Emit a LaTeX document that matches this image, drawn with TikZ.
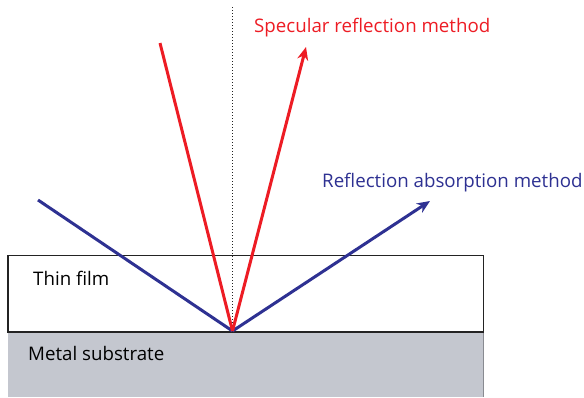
\documentclass[tikz,border=0pt]{standalone}
\usepackage{fontspec}
\setmainfont{Open Sans}
\usepackage{tikz}
\usetikzlibrary{arrows.meta, positioning, calc}
\definecolor{myred}{RGB}{237,28,36}
\definecolor{myblue}{RGB}{46,49,146}
\definecolor{mygrey}{RGB}{196,199,207}
\definecolor{mydark}{RGB}{35,35,35}
\tikzset{
  layer/.style={draw=mydark, line width=1.3pt},
  beamred/.style={myred, line width=3pt},
  beamblue/.style={myblue, line width=3pt},
  tipred/.style={beamred, -{Stealth[length=13pt, width=11pt]}},
  tipblue/.style={beamblue, -{Stealth[length=13pt, width=11pt]}},
  normal/.style={dotted, line width=1pt, color=mydark},
  lbl/.style={font=\fontsize{18.7}{22}\selectfont, inner sep=0pt, anchor=west}
}

\begin{document}
\begin{tikzpicture}[x=1pt, y=-1pt]
  \useasboundingbox (0,0) rectangle (584,397);

  % Layers
  \fill[mygrey] (8,332) rectangle (484,397);
  \draw[mygrey!70!black, line width=1pt] (483.5,332) -- (483.5,397);
  \draw[layer, fill=white] (8,255.5) rectangle (483.5,332);
  \node[lbl] (film) at (33,278) {Thin film};
  \node[lbl] (metal) at (28,353) {Metal substrate};

  % Points
  \coordinate (hit) at (232.5,331);
  \coordinate (top) at (232.5,7);
  \coordinate (redin) at (160,43);
  \coordinate (redout) at (306,47);
  \coordinate (bluein) at (38,200);
  \coordinate (blueout) at (430,201);

  % Surface normal
  \draw[normal] (top) -- (hit);

  % Beams
  \draw[beamblue] (bluein) -- (hit);
  \draw[tipblue] (hit) -- (blueout);
  \draw[beamred] (redin) -- (hit);
  \draw[tipred] (hit) -- (redout);

  % Labels
  \node[lbl, text=myred] (spec) at (254,28) {Specular reflection method};
  \node[lbl, text=myblue] (rams) at (322,183) {Reflection absorption method};
\end{tikzpicture}
\end{document}
